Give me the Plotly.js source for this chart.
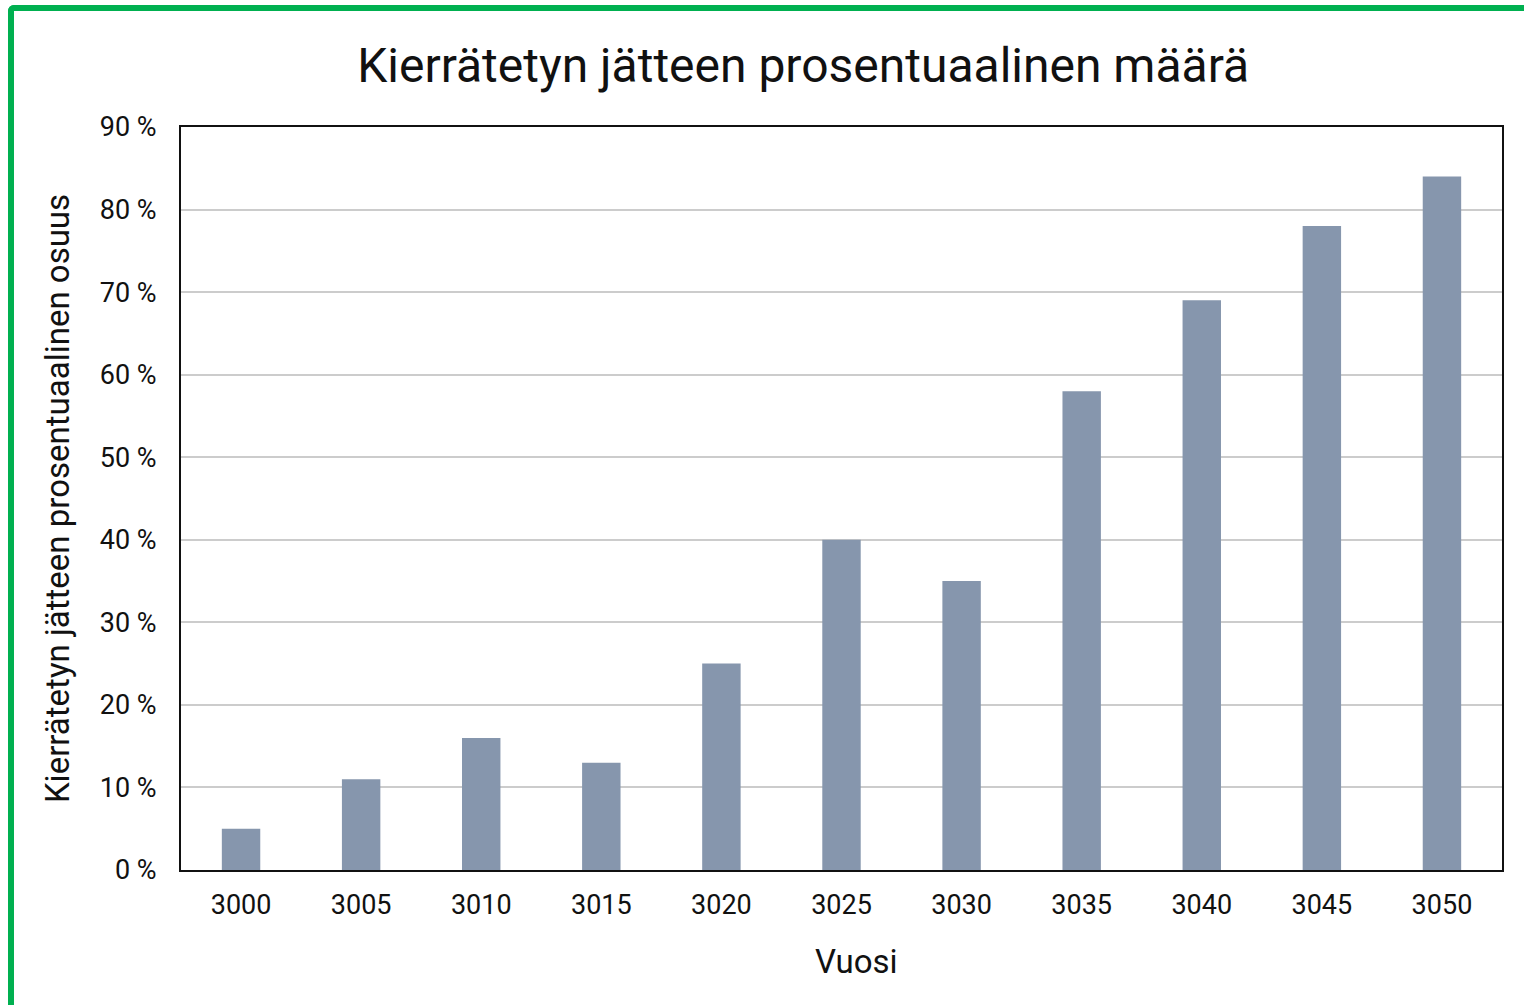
<!DOCTYPE html>
<html>
<head>
<meta charset="utf-8">
<script src="https://cdn.plot.ly/plotly-3.0.1.min.js"></script>
<style>
html, body { margin:0; padding:0; background:#fff; width:1524px; height:1005px; overflow:hidden; }
#frame { position:absolute; left:8px; top:5px; width:1530px; height:1020px; border-top:6px solid #00b050; border-left:6px solid #00b050; border-top-left-radius:6px; box-sizing:border-box; }
#chart { position:absolute; left:0; top:0; width:1524px; height:1005px; }
</style>
</head>
<body>
<div id="chart"></div>
<div id="frame"></div>
<script>
const years = ["3000","3005","3010","3015","3020","3025","3030","3035","3040","3045","3050"];
const recycledPercent = [5, 11, 16, 13, 25, 40, 35, 58, 69, 78, 84];
const yTicks = [0, 10, 20, 30, 40, 50, 60, 70, 80, 90];
const yTickLabels = ["0 %","10 %","20 %","30 %","40 %","50 %","60 %","70 %","80 %","90 %"];
const xTitle = 'Vuosi';

const font = "Roboto, 'Noto Sans', Arial, sans-serif";

Plotly.newPlot('chart', [{
  type: 'bar',
  x: years,
  y: recycledPercent,
  marker: { color: '#8696ad' },
  width: 0.32,
  hoverinfo: 'x+y'
}], {
  width: 1524, height: 1005,
  paper_bgcolor: '#ffffff', plot_bgcolor: '#ffffff',
  margin: { l: 181, r: 22, t: 127, b: 135 },
  showlegend: false,
  font: { family: font, color: '#111' },
  title: { text: 'Kierrätetyn jätteen prosentuaalinen määrä', font: { family: font, size: 48, color: '#111' }, x: 0.527, xanchor: 'center', y: 0.935, yanchor: 'middle' },
  annotations: [{
    text: xTitle, xref: 'paper', yref: 'paper', x: 0.511, y: -0.1238,
    xanchor: 'center', yanchor: 'middle', showarrow: false,
    font: { family: font, size: 33, color: '#111' }
  }],
  xaxis: {
    type: 'category',
    showline: true, linecolor: '#111', linewidth: 2, mirror: true,
    ticks: 'outside', ticklen: 10, tickcolor: 'rgba(0,0,0,0)',
    tickfont: { family: font, size: 27, color: '#111' }
  },
  yaxis: {
    range: [0, 90],
    tickvals: yTicks, ticktext: yTickLabels,
    showgrid: true, gridcolor: '#cccccc', gridwidth: 2,
    showline: true, linecolor: '#111', linewidth: 2, mirror: true,
    zeroline: false,
    ticks: 'outside', ticklen: 17, tickcolor: 'rgba(0,0,0,0)',
    tickfont: { family: font, size: 27, color: '#111' },
    title: { text: 'Kierrätetyn jätteen prosentuaalinen osuus', font: { family: font, size: 33, color: '#111' }, standoff: 20 }
  }
}, { displayModeBar: false, staticPlot: true });
</script>
</body>
</html>
